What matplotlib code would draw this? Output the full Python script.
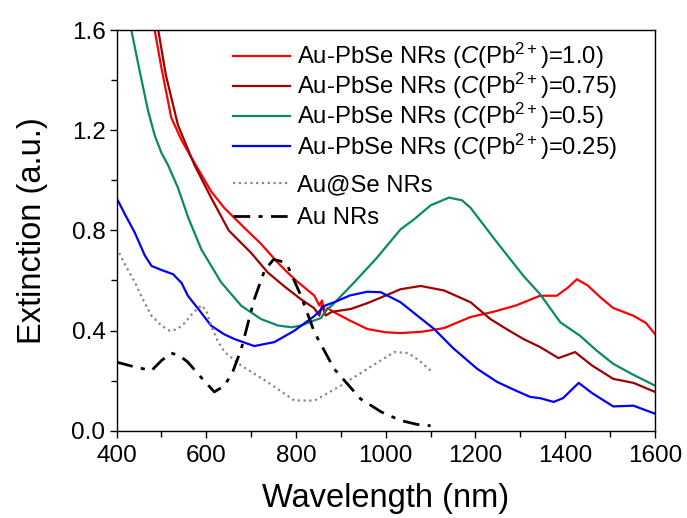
import matplotlib
matplotlib.use("Agg")
import matplotlib.pyplot as plt
from matplotlib.ticker import MultipleLocator, FormatStrFormatter

plt.rcParams['font.family'] = ['Liberation Sans', 'DejaVu Sans']
plt.rcParams['mathtext.fontset'] = 'custom'
plt.rcParams['mathtext.rm'] = 'Liberation Sans'
plt.rcParams['mathtext.it'] = 'Liberation Sans:italic'

# Au-PbSe NRs, C(Pb2+)=1.0
w_red = [485, 500, 522, 545, 567, 590, 611, 640, 685, 720, 760, 781, 800, 841, 852, 858, 864, 870,
         885, 920, 959, 1000, 1033, 1080, 1130, 1189, 1240, 1290, 1344, 1381, 1405, 1426, 1450, 1480,
         1507, 1552, 1580, 1600]
v_red = [1.6, 1.45, 1.25, 1.16, 1.09, 1.02, 0.955, 0.89, 0.81, 0.75, 0.67, 0.632, 0.60, 0.539, 0.50,
         0.52, 0.47, 0.49, 0.473, 0.44, 0.406, 0.393, 0.39, 0.395, 0.41, 0.454, 0.475, 0.50, 0.539,
         0.539, 0.57, 0.605, 0.58, 0.53, 0.49, 0.459, 0.43, 0.386]

# C(Pb2+)=0.75
w_dred = [493, 510, 537, 574, 611, 650, 700, 737, 775, 811, 840, 852, 858, 866, 880, 922, 960, 1000,
          1033, 1078, 1130, 1189, 1233, 1270, 1307, 1344, 1385, 1422, 1460, 1507, 1552, 1600]
v_dred = [1.6, 1.42, 1.22, 1.06, 0.93, 0.80, 0.71, 0.632, 0.575, 0.525, 0.49, 0.46, 0.50, 0.46,
          0.475, 0.486, 0.51, 0.54, 0.565, 0.578, 0.56, 0.513, 0.446, 0.405, 0.366, 0.334, 0.29,
          0.314, 0.26, 0.207, 0.191, 0.155]

# C(Pb2+)=0.5
w_green = [433, 450, 470, 485, 500, 515, 537, 560, 589, 633, 678, 722, 760, 790, 811, 840, 856, 866,
           880, 930, 980, 1033, 1063, 1100, 1141, 1170, 1189, 1248, 1307, 1344, 1389, 1433, 1470,
           1507, 1550, 1600]
v_green = [1.6, 1.45, 1.28, 1.18, 1.11, 1.06, 0.97, 0.85, 0.724, 0.593, 0.499, 0.446, 0.42, 0.413,
           0.42, 0.44, 0.45, 0.48, 0.50, 0.593, 0.69, 0.804, 0.844, 0.90, 0.931, 0.92, 0.89, 0.752,
           0.618, 0.545, 0.433, 0.379, 0.32, 0.267, 0.225, 0.18]

# C(Pb2+)=0.25
w_blue = [400, 420, 441, 463, 478, 500, 526, 545, 559, 585, 611, 640, 663, 707, 752, 796, 841, 865,
          885, 920, 959, 989, 1033, 1070, 1108, 1150, 1204, 1248, 1290, 1322, 1344, 1374, 1395, 1430,
          1460, 1507, 1552, 1600]
v_blue = [0.93, 0.86, 0.79, 0.70, 0.658, 0.642, 0.625, 0.59, 0.539, 0.48, 0.419, 0.385, 0.366,
          0.338, 0.354, 0.399, 0.458, 0.50, 0.513, 0.54, 0.555, 0.553, 0.513, 0.46, 0.406, 0.33,
          0.247, 0.195, 0.16, 0.135, 0.13, 0.115, 0.13, 0.191, 0.15, 0.097, 0.10, 0.068]

# Au@Se NRs
w_ause = [400, 420, 441, 460, 478, 500, 519, 535, 552, 570, 589, 600, 611, 625, 641, 678, 737, 796,
          841, 900, 959, 1019, 1050, 1075, 1100]
v_ause = [0.73, 0.66, 0.592, 0.52, 0.459, 0.42, 0.399, 0.405, 0.43, 0.47, 0.501, 0.48, 0.419, 0.36,
          0.314, 0.26, 0.194, 0.121, 0.12, 0.18, 0.247, 0.314, 0.31, 0.28, 0.24]

# Au NRs
w_au = [400, 440, 478, 500, 522, 540, 559, 590, 618, 641, 660, 678, 707, 730, 750, 770, 781, 811,
        841, 885, 944, 990, 1033, 1070, 1100]
v_au = [0.274, 0.255, 0.24, 0.28, 0.31, 0.30, 0.274, 0.21, 0.155, 0.18, 0.24, 0.326, 0.525, 0.64,
        0.684, 0.675, 0.66, 0.539, 0.393, 0.247, 0.127, 0.075, 0.041, 0.025, 0.02]

labels = [r'Au-PbSe NRs ($\mathit{C}$(Pb$^{2+}$)=1.0)',
          r'Au-PbSe NRs ($\mathit{C}$(Pb$^{2+}$)=0.75)',
          r'Au-PbSe NRs ($\mathit{C}$(Pb$^{2+}$)=0.5)',
          r'Au-PbSe NRs ($\mathit{C}$(Pb$^{2+}$)=0.25)',
          'Au@Se NRs',
          'Au NRs']

fig = plt.figure(figsize=(6.87, 5.18), dpi=100)
ax = fig.add_axes([0.1696, 0.1685, 0.7838, 0.7735])

lw = 1.6
l1, = ax.plot(w_red, v_red, color='#ff0000', lw=lw, label=labels[0])
l2, = ax.plot(w_dred, v_dred, color='#a00000', lw=lw, label=labels[1])
l3, = ax.plot(w_green, v_green, color='#0a8a60', lw=lw, label=labels[2])
l4, = ax.plot(w_blue, v_blue, color='#0000ff', lw=lw, label=labels[3])
l5, = ax.plot(w_ause, v_ause, color='#888888', lw=1.6, ls=(0, (1, 1.6)), label=labels[4])
l6, = ax.plot(w_au, v_au, color='black', lw=2.0, ls=(0, (6, 3, 1.5, 3)), label=labels[5])

ax.set_xlim(400, 1600)
ax.set_ylim(0, 1.6)
ax.xaxis.set_major_locator(MultipleLocator(200))
ax.xaxis.set_minor_locator(MultipleLocator(100))
ax.yaxis.set_major_locator(MultipleLocator(0.4))
ax.yaxis.set_minor_locator(MultipleLocator(0.2))
ax.yaxis.set_major_formatter(FormatStrFormatter('%.1f'))
ax.tick_params(which='both', direction='out', labelsize=17.5, width=1, top=False, right=False)
ax.tick_params(which='major', length=5, pad=3)
ax.tick_params(axis='x', which='major', pad=5)
ax.tick_params(which='minor', length=4)
for s in ax.spines.values():
    s.set_linewidth(1.0)

ax.set_xlabel('Wavelength (nm)', fontsize=23.5, labelpad=12)
ax.set_ylabel('Extinction (a.u.)', fontsize=23.5, labelpad=17)

leg_kw = dict(loc='upper left', frameon=False, fontsize=17.2, handlelength=2.4,
              handletextpad=0.3, borderaxespad=0.0, borderpad=0.0)
leg1 = ax.legend([l1, l2, l3, l4], labels[:4], bbox_to_anchor=(0.216, 0.973),
                 labelspacing=0.0, **leg_kw)
ax.add_artist(leg1)
ax.legend([l5, l6], labels[4:], bbox_to_anchor=(0.216, 0.64), labelspacing=0.45, **leg_kw)

fig.savefig('out.png', dpi=100)
